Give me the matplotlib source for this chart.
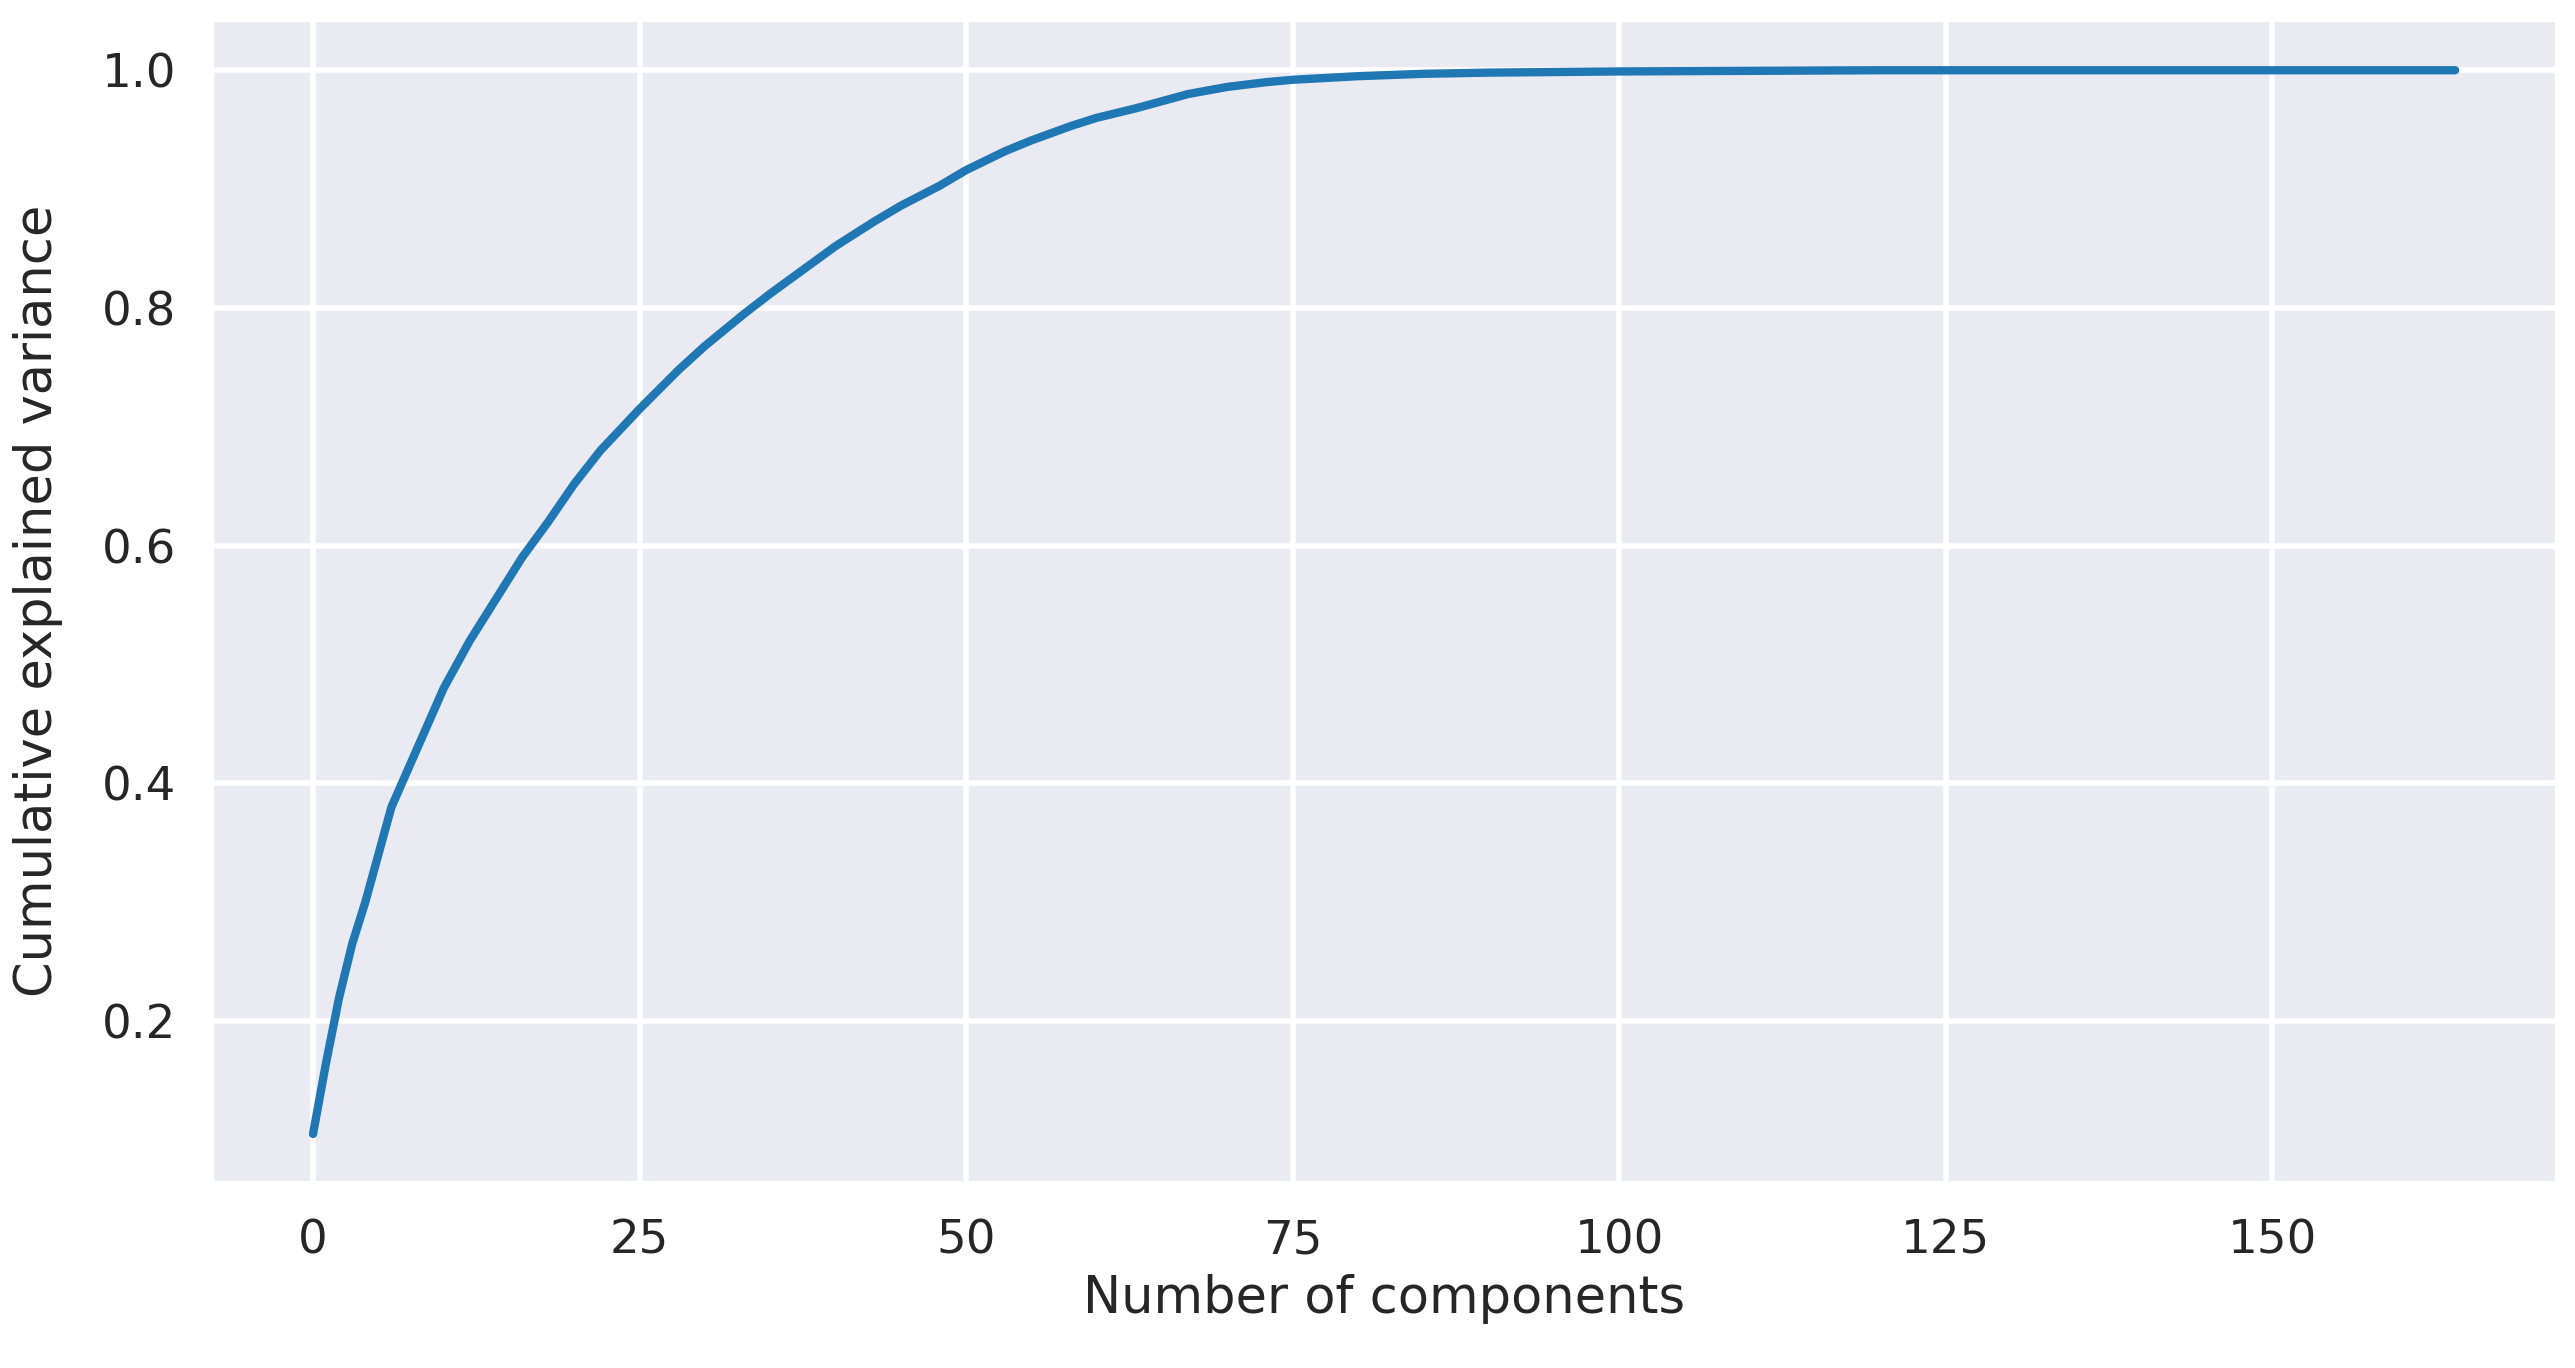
import matplotlib
matplotlib.use('Agg')
import matplotlib.pyplot as plt
import seaborn as sns

# Cumulative explained variance
components = [0, 1, 2, 3, 4, 5, 6, 8, 10, 12, 14, 16, 18, 20, 22, 25, 28, 30, 33, 35,
              38, 40, 43, 45, 48, 50, 53, 55, 58, 60, 63, 65, 67, 70, 73, 75, 80, 85,
              90, 100, 120, 164]
cum_var = [0.105, 0.165, 0.22, 0.265, 0.30, 0.34, 0.38, 0.43, 0.48, 0.52, 0.555, 0.59,
           0.62, 0.652, 0.68, 0.715, 0.748, 0.768, 0.795, 0.812, 0.836, 0.852, 0.873,
           0.886, 0.903, 0.916, 0.932, 0.941, 0.953, 0.96, 0.968, 0.974, 0.98, 0.986,
           0.99, 0.992, 0.995, 0.997, 0.998, 0.999, 1.0, 1.0]
x_ticks = [0, 25, 50, 75, 100, 125, 150]

sns.set_theme(style='darkgrid', context='talk', font_scale=1.02)

fig = plt.figure(figsize=(12.875, 6.84), dpi=200)
ax = fig.add_axes([0.082, 0.135, 0.911, 0.851])
ax.plot(components, cum_var, color='#1f77b4', linewidth=3)
ax.set_xticks(x_ticks)
ax.set_xlim(-7.8, 171.8)
ax.set_ylim(0.0635, 1.043)
ax.grid(True, color='white', linewidth=2)
ax.set_xlabel('Number of components')
ax.set_ylabel('Cumulative explained variance', labelpad=14)
fig.savefig('out.png', dpi=200)
